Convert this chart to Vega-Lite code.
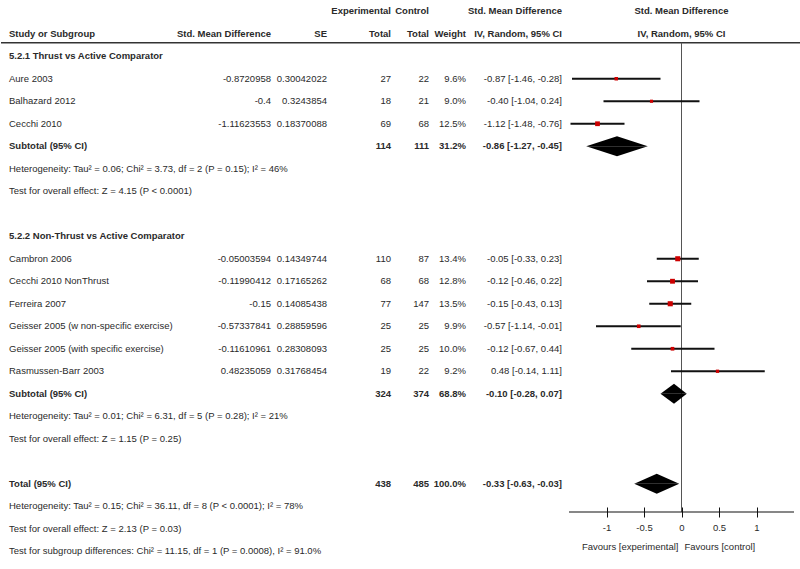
{
  "$schema": "https://vega.github.io/schema/vega-lite/v6.json",
  "padding": 0,
  "spacing": 0,
  "bounds": "flush",
  "resolve": {"scale": {"y": "shared"}},
  "config": {
    "view": {"stroke": null},
    "text": {"font": "Liberation Sans", "fontSize": 9.5, "color": "#2a2a2a"}
  },
  "datasets": {
    "table": [
      {"line": "L00", "kind": "head", "ne": "Experimental", "nc": "Control", "ci": "Std. Mean Difference"},
      {"line": "L01", "kind": "head", "label": "Study or Subgroup", "smd": "Std. Mean Difference", "se": "SE", "ne": "Total", "nc": "Total", "w": "Weight", "ci": "IV, Random, 95% CI"},
      {"line": "L02", "kind": "group", "label": "5.2.1 Thrust vs Active Comparator"},
      {"line": "L03", "kind": "study", "label": "Aure 2003", "smd": "-0.8720958", "se": "0.30042022", "ne": "27", "nc": "22", "w": "9.6%", "ci": "-0.87 [-1.46, -0.28]", "est": -0.87, "lo": -1.46, "hi": -0.28, "weight": 9.6},
      {"line": "L04", "kind": "study", "label": "Balhazard 2012", "smd": "-0.4", "se": "0.3243854", "ne": "18", "nc": "21", "w": "9.0%", "ci": "-0.40 [-1.04, 0.24]", "est": -0.40, "lo": -1.04, "hi": 0.24, "weight": 9.0},
      {"line": "L05", "kind": "study", "label": "Cecchi 2010", "smd": "-1.11623553", "se": "0.18370088", "ne": "69", "nc": "68", "w": "12.5%", "ci": "-1.12 [-1.48, -0.76]", "est": -1.12, "lo": -1.48, "hi": -0.76, "weight": 12.5},
      {"line": "L06", "kind": "sub", "label": "Subtotal (95% CI)", "ne": "114", "nc": "111", "w": "31.2%", "ci": "-0.86 [-1.27, -0.45]"},
      {"line": "L07", "kind": "note", "label": "Heterogeneity: Tau² = 0.06; Chi² = 3.73, df = 2 (P = 0.15); I² = 46%"},
      {"line": "L08", "kind": "note", "label": "Test for overall effect: Z = 4.15 (P < 0.0001)"},
      {"line": "L10", "kind": "group", "label": "5.2.2 Non-Thrust vs Active Comparator"},
      {"line": "L11", "kind": "study", "label": "Cambron 2006", "smd": "-0.05003594", "se": "0.14349744", "ne": "110", "nc": "87", "w": "13.4%", "ci": "-0.05 [-0.33, 0.23]", "est": -0.05, "lo": -0.33, "hi": 0.23, "weight": 13.4},
      {"line": "L12", "kind": "study", "label": "Cecchi 2010 NonThrust", "smd": "-0.11990412", "se": "0.17165262", "ne": "68", "nc": "68", "w": "12.8%", "ci": "-0.12 [-0.46, 0.22]", "est": -0.12, "lo": -0.46, "hi": 0.22, "weight": 12.8},
      {"line": "L13", "kind": "study", "label": "Ferreira 2007", "smd": "-0.15", "se": "0.14085438", "ne": "77", "nc": "147", "w": "13.5%", "ci": "-0.15 [-0.43, 0.13]", "est": -0.15, "lo": -0.43, "hi": 0.13, "weight": 13.5},
      {"line": "L14", "kind": "study", "label": "Geisser 2005 (w non-specific exercise)", "smd": "-0.57337841", "se": "0.28859596", "ne": "25", "nc": "25", "w": "9.9%", "ci": "-0.57 [-1.14, -0.01]", "est": -0.57, "lo": -1.14, "hi": -0.01, "weight": 9.9},
      {"line": "L15", "kind": "study", "label": "Geisser 2005 (with specific exercise)", "smd": "-0.11610961", "se": "0.28308093", "ne": "25", "nc": "25", "w": "10.0%", "ci": "-0.12 [-0.67, 0.44]", "est": -0.12, "lo": -0.67, "hi": 0.44, "weight": 10.0},
      {"line": "L16", "kind": "study", "label": "Rasmussen-Barr 2003", "smd": "0.48235059", "se": "0.31768454", "ne": "19", "nc": "22", "w": "9.2%", "ci": "0.48 [-0.14, 1.11]", "est": 0.48, "lo": -0.14, "hi": 1.11, "weight": 9.2},
      {"line": "L17", "kind": "sub", "label": "Subtotal (95% CI)", "ne": "324", "nc": "374", "w": "68.8%", "ci": "-0.10 [-0.28, 0.07]"},
      {"line": "L18", "kind": "note", "label": "Heterogeneity: Tau² = 0.01; Chi² = 6.31, df = 5 (P = 0.28); I² = 21%"},
      {"line": "L19", "kind": "note", "label": "Test for overall effect: Z = 1.15 (P = 0.25)"},
      {"line": "L21", "kind": "total", "label": "Total (95% CI)", "ne": "438", "nc": "485", "w": "100.0%", "ci": "-0.33 [-0.63, -0.03]"},
      {"line": "L22", "kind": "note", "label": "Heterogeneity: Tau² = 0.15; Chi² = 36.11, df = 8 (P < 0.0001); I² = 78%"},
      {"line": "L23", "kind": "note", "label": "Test for overall effect: Z = 2.13 (P = 0.03)"},
      {"line": "L24", "kind": "note", "label": "Test for subgroup differences: Chi² = 11.15, df = 1 (P = 0.0008), I² = 91.0%"}
    ],
    "diamonds": [
      {"line": "L06", "part": "edge", "x": -1.27},
      {"line": "L06", "part": "mid", "x": -0.86},
      {"line": "L06", "part": "edge", "x": -0.45},
      {"line": "L17", "part": "edge", "x": -0.28},
      {"line": "L17", "part": "mid", "x": -0.10},
      {"line": "L17", "part": "edge", "x": 0.07},
      {"line": "L21", "part": "edge", "x": -0.63},
      {"line": "L21", "part": "mid", "x": -0.33},
      {"line": "L21", "part": "edge", "x": -0.03}
    ]
  },
  "hconcat": [
    {
      "width": 8, "height": 562.5,
      "data": {"values": [{}]},
      "mark": {"type": "rule", "color": "#333", "strokeWidth": 1.5},
      "encoding": {"y": {"datum": "L01", "type": "nominal", "bandPosition": 0.9, "axis": null, "scale": {"type": "band", "domain": ["L00","L01","L02","L03","L04","L05","L06","L07","L08","L09","L10","L11","L12","L13","L14","L15","L16","L17","L18","L19","L20","L21","L22","L23","L24"], "paddingInner": 0, "paddingOuter": 0}}}
    },
    {
      "width": 172, "height": 562.5,
      "layer": [
        {"data": {"values": [{}]}, "mark": {"type": "rule", "color": "#333", "strokeWidth": 1.5},
         "encoding": {"y": {"datum": "L01", "type": "nominal", "bandPosition": 0.9, "axis": null}}},
        {"data": {"name": "table"}, "transform": [{"filter": "datum.label != null && datum.kind != 'study' && datum.kind != 'note'"}],
         "mark": {"type": "text", "align": "left", "fontWeight": "bold"},
         "encoding": {"x": {"datum": "c", "type": "nominal", "bandPosition": 0, "axis": null, "scale": {"type": "band", "paddingInner": 0, "paddingOuter": 0}},
                      "y": {"field": "line", "type": "nominal", "axis": null}, "text": {"field": "label", "type": "nominal"}}},
        {"data": {"name": "table"}, "transform": [{"filter": "datum.label != null && (datum.kind == 'study' || datum.kind == 'note')"}],
         "mark": {"type": "text", "align": "left"},
         "encoding": {"x": {"datum": "c", "type": "nominal", "bandPosition": 0, "axis": null, "scale": {"type": "band", "paddingInner": 0, "paddingOuter": 0}},
                      "y": {"field": "line", "type": "nominal", "axis": null}, "text": {"field": "label", "type": "nominal"}}}
      ]
    },
    {
      "width": 90, "height": 562.5,
      "layer": [
        {"data": {"values": [{}]}, "mark": {"type": "rule", "color": "#333", "strokeWidth": 1.5},
         "encoding": {"y": {"datum": "L01", "type": "nominal", "bandPosition": 0.9, "axis": null}}},
        {"data": {"name": "table"}, "transform": [{"filter": "datum.smd != null && datum.kind != 'study' && datum.kind != 'note'"}],
         "mark": {"type": "text", "align": "right", "fontWeight": "bold"},
         "encoding": {"x": {"datum": "c", "type": "nominal", "bandPosition": 1, "axis": null, "scale": {"type": "band", "paddingInner": 0, "paddingOuter": 0}},
                      "y": {"field": "line", "type": "nominal", "axis": null}, "text": {"field": "smd", "type": "nominal"}}},
        {"data": {"name": "table"}, "transform": [{"filter": "datum.smd != null && (datum.kind == 'study' || datum.kind == 'note')"}],
         "mark": {"type": "text", "align": "right"},
         "encoding": {"x": {"datum": "c", "type": "nominal", "bandPosition": 1, "axis": null, "scale": {"type": "band", "paddingInner": 0, "paddingOuter": 0}},
                      "y": {"field": "line", "type": "nominal", "axis": null}, "text": {"field": "smd", "type": "nominal"}}}
      ]
    },
    {
      "width": 56, "height": 562.5,
      "layer": [
        {"data": {"values": [{}]}, "mark": {"type": "rule", "color": "#333", "strokeWidth": 1.5},
         "encoding": {"y": {"datum": "L01", "type": "nominal", "bandPosition": 0.9, "axis": null}}},
        {"data": {"name": "table"}, "transform": [{"filter": "datum.se != null && datum.kind != 'study' && datum.kind != 'note'"}],
         "mark": {"type": "text", "align": "right", "fontWeight": "bold"},
         "encoding": {"x": {"datum": "c", "type": "nominal", "bandPosition": 1, "axis": null, "scale": {"type": "band", "paddingInner": 0, "paddingOuter": 0}},
                      "y": {"field": "line", "type": "nominal", "axis": null}, "text": {"field": "se", "type": "nominal"}}},
        {"data": {"name": "table"}, "transform": [{"filter": "datum.se != null && (datum.kind == 'study' || datum.kind == 'note')"}],
         "mark": {"type": "text", "align": "right"},
         "encoding": {"x": {"datum": "c", "type": "nominal", "bandPosition": 1, "axis": null, "scale": {"type": "band", "paddingInner": 0, "paddingOuter": 0}},
                      "y": {"field": "line", "type": "nominal", "axis": null}, "text": {"field": "se", "type": "nominal"}}}
      ]
    },
    {
      "width": 64, "height": 562.5,
      "layer": [
        {"data": {"values": [{}]}, "mark": {"type": "rule", "color": "#333", "strokeWidth": 1.5},
         "encoding": {"y": {"datum": "L01", "type": "nominal", "bandPosition": 0.9, "axis": null}}},
        {"data": {"name": "table"}, "transform": [{"filter": "datum.ne != null && datum.kind != 'study' && datum.kind != 'note'"}],
         "mark": {"type": "text", "align": "right", "fontWeight": "bold"},
         "encoding": {"x": {"datum": "c", "type": "nominal", "bandPosition": 1, "axis": null, "scale": {"type": "band", "paddingInner": 0, "paddingOuter": 0}},
                      "y": {"field": "line", "type": "nominal", "axis": null}, "text": {"field": "ne", "type": "nominal"}}},
        {"data": {"name": "table"}, "transform": [{"filter": "datum.ne != null && (datum.kind == 'study' || datum.kind == 'note')"}],
         "mark": {"type": "text", "align": "right"},
         "encoding": {"x": {"datum": "c", "type": "nominal", "bandPosition": 1, "axis": null, "scale": {"type": "band", "paddingInner": 0, "paddingOuter": 0}},
                      "y": {"field": "line", "type": "nominal", "axis": null}, "text": {"field": "ne", "type": "nominal"}}}
      ]
    },
    {
      "width": 38, "height": 562.5,
      "layer": [
        {"data": {"values": [{}]}, "mark": {"type": "rule", "color": "#333", "strokeWidth": 1.5},
         "encoding": {"y": {"datum": "L01", "type": "nominal", "bandPosition": 0.9, "axis": null}}},
        {"data": {"name": "table"}, "transform": [{"filter": "datum.nc != null && datum.kind != 'study' && datum.kind != 'note'"}],
         "mark": {"type": "text", "align": "right", "fontWeight": "bold"},
         "encoding": {"x": {"datum": "c", "type": "nominal", "bandPosition": 1, "axis": null, "scale": {"type": "band", "paddingInner": 0, "paddingOuter": 0}},
                      "y": {"field": "line", "type": "nominal", "axis": null}, "text": {"field": "nc", "type": "nominal"}}},
        {"data": {"name": "table"}, "transform": [{"filter": "datum.nc != null && (datum.kind == 'study' || datum.kind == 'note')"}],
         "mark": {"type": "text", "align": "right"},
         "encoding": {"x": {"datum": "c", "type": "nominal", "bandPosition": 1, "axis": null, "scale": {"type": "band", "paddingInner": 0, "paddingOuter": 0}},
                      "y": {"field": "line", "type": "nominal", "axis": null}, "text": {"field": "nc", "type": "nominal"}}}
      ]
    },
    {
      "width": 37, "height": 562.5,
      "layer": [
        {"data": {"values": [{}]}, "mark": {"type": "rule", "color": "#333", "strokeWidth": 1.5},
         "encoding": {"y": {"datum": "L01", "type": "nominal", "bandPosition": 0.9, "axis": null}}},
        {"data": {"name": "table"}, "transform": [{"filter": "datum.w != null && datum.kind != 'study' && datum.kind != 'note'"}],
         "mark": {"type": "text", "align": "right", "fontWeight": "bold"},
         "encoding": {"x": {"datum": "c", "type": "nominal", "bandPosition": 1, "axis": null, "scale": {"type": "band", "paddingInner": 0, "paddingOuter": 0}},
                      "y": {"field": "line", "type": "nominal", "axis": null}, "text": {"field": "w", "type": "nominal"}}},
        {"data": {"name": "table"}, "transform": [{"filter": "datum.w != null && (datum.kind == 'study' || datum.kind == 'note')"}],
         "mark": {"type": "text", "align": "right"},
         "encoding": {"x": {"datum": "c", "type": "nominal", "bandPosition": 1, "axis": null, "scale": {"type": "band", "paddingInner": 0, "paddingOuter": 0}},
                      "y": {"field": "line", "type": "nominal", "axis": null}, "text": {"field": "w", "type": "nominal"}}}
      ]
    },
    {
      "width": 96, "height": 562.5,
      "layer": [
        {"data": {"values": [{}]}, "mark": {"type": "rule", "color": "#333", "strokeWidth": 1.5},
         "encoding": {"y": {"datum": "L01", "type": "nominal", "bandPosition": 0.9, "axis": null}}},
        {"data": {"name": "table"}, "transform": [{"filter": "datum.ci != null && datum.kind != 'study' && datum.kind != 'note'"}],
         "mark": {"type": "text", "align": "right", "fontWeight": "bold"},
         "encoding": {"x": {"datum": "c", "type": "nominal", "bandPosition": 1, "axis": null, "scale": {"type": "band", "paddingInner": 0, "paddingOuter": 0}},
                      "y": {"field": "line", "type": "nominal", "axis": null}, "text": {"field": "ci", "type": "nominal"}}},
        {"data": {"name": "table"}, "transform": [{"filter": "datum.ci != null && (datum.kind == 'study' || datum.kind == 'note')"}],
         "mark": {"type": "text", "align": "right"},
         "encoding": {"x": {"datum": "c", "type": "nominal", "bandPosition": 1, "axis": null, "scale": {"type": "band", "paddingInner": 0, "paddingOuter": 0}},
                      "y": {"field": "line", "type": "nominal", "axis": null}, "text": {"field": "ci", "type": "nominal"}}}
      ]
    },
    {
      "width": 7, "height": 562.5,
      "data": {"values": [{}]},
      "mark": {"type": "rule", "color": "#333", "strokeWidth": 1.5},
      "encoding": {"y": {"datum": "L01", "type": "nominal", "bandPosition": 0.9, "axis": null}}
    },
    {
      "width": 225, "height": 562.5,
      "resolve": {"scale": {"yOffset": "independent"}},
      "layer": [
        {"data": {"values": [{}]}, "mark": {"type": "rule", "color": "#333", "strokeWidth": 1.5},
         "encoding": {"y": {"datum": "L01", "type": "nominal", "bandPosition": 0.9, "axis": null}}},
        {"data": {"values": [{}]}, "mark": {"type": "rule", "color": "#555", "strokeWidth": 1},
         "encoding": {
           "x": {"datum": 0, "type": "quantitative", "scale": {"domain": [-1.5, 1.5], "nice": false, "zero": false},
                 "axis": {"values": [-1, -0.5, 0, 0.5, 1], "domain": false, "grid": false, "tickSize": 10, "tickColor": "#111", "tickWidth": 1, "offset": -55.5, "labelExpr": "'' + datum.value", "labelPadding": 5, "labelFontSize": 9.5, "labelColor": "#2a2a2a", "labelFont": "Liberation Sans", "title": null}},
           "y": {"datum": "L01", "type": "nominal", "bandPosition": 0.9, "axis": null},
           "y2": {"datum": "L22", "bandPosition": 0.756}}},
        {"data": {"values": [{}]}, "mark": {"type": "rule", "color": "#111", "strokeWidth": 1.2},
         "encoding": {
           "x": {"datum": -1.5, "type": "quantitative"},
           "x2": {"datum": 1.5},
           "y": {"datum": "L22", "type": "nominal", "bandPosition": 0.756, "axis": null}}},
        {"data": {"name": "table"}, "transform": [{"filter": "datum.kind == 'study'"}],
         "mark": {"type": "rule", "color": "#111", "strokeWidth": 1.8},
         "encoding": {
           "x": {"field": "lo", "type": "quantitative", "title": null},
           "x2": {"field": "hi"},
           "y": {"field": "line", "type": "nominal", "axis": null}}},
        {"data": {"name": "table"}, "transform": [{"filter": "datum.kind == 'study'"}],
         "mark": {"type": "point", "shape": "square", "filled": true, "color": "#cc0000", "opacity": 1},
         "encoding": {
           "x": {"field": "est", "type": "quantitative", "title": null},
           "y": {"field": "line", "type": "nominal", "axis": null},
           "size": {"field": "weight", "type": "quantitative", "scale": {"domain": [9, 13.5], "range": [10, 26]}, "legend": null}}},
        {"data": {"name": "diamonds"},
         "mark": {"type": "line", "filled": true, "color": "#000", "interpolate": "linear"},
         "encoding": {
           "x": {"field": "x", "type": "quantitative", "title": null},
           "y": {"field": "line", "type": "nominal", "axis": null, "bandPosition": 0},
           "yOffset": {"field": "part", "type": "nominal", "scale": {"type": "point", "domain": ["edge", "mid"], "range": [11.25, 1.25], "padding": 0}},
           "detail": {"field": "line", "type": "nominal"},
           "order": {"field": "x", "type": "quantitative"}}},
        {"data": {"name": "diamonds"},
         "mark": {"type": "line", "filled": true, "color": "#000", "interpolate": "linear"},
         "encoding": {
           "x": {"field": "x", "type": "quantitative", "title": null},
           "y": {"field": "line", "type": "nominal", "axis": null, "bandPosition": 0},
           "yOffset": {"field": "part", "type": "nominal", "scale": {"type": "point", "domain": ["edge", "mid"], "range": [11.25, 21.25], "padding": 0}},
           "detail": {"field": "line", "type": "nominal"},
           "order": {"field": "x", "type": "quantitative"}}},
        {"data": {"values": [{"line": "L00", "t": "Std. Mean Difference"}, {"line": "L01", "t": "IV, Random, 95% CI"}]},
         "mark": {"type": "text", "align": "center", "fontWeight": "bold"},
         "encoding": {
           "x": {"datum": 0, "type": "quantitative"},
           "y": {"field": "line", "type": "nominal", "axis": null},
           "text": {"field": "t", "type": "nominal"}}},
        {"data": {"values": [{"t": "Favours [experimental]"}]},
         "mark": {"type": "text", "align": "right", "dx": -3},
         "encoding": {
           "x": {"datum": 0, "type": "quantitative"},
           "y": {"datum": "L24", "type": "nominal", "bandPosition": 0.33, "axis": null},
           "text": {"field": "t", "type": "nominal"}}},
        {"data": {"values": [{"t": "Favours [control]"}]},
         "mark": {"type": "text", "align": "left", "dx": 3},
         "encoding": {
           "x": {"datum": 0, "type": "quantitative"},
           "y": {"datum": "L24", "type": "nominal", "bandPosition": 0.33, "axis": null},
           "text": {"field": "t", "type": "nominal"}}}
      ]
    },
    {
      "width": 7, "height": 562.5,
      "data": {"values": [{}]},
      "mark": {"type": "rule", "color": "#333", "strokeWidth": 1.5},
      "encoding": {"y": {"datum": "L01", "type": "nominal", "bandPosition": 0.9, "axis": null}}
    }
  ]
}
